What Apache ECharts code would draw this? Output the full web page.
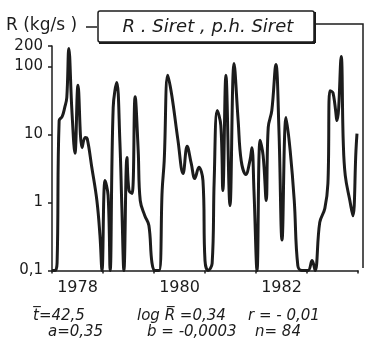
<!DOCTYPE html>
<html>
<head>
<meta charset="utf-8">
<script src="https://cdn.jsdelivr.net/npm/echarts@6/dist/echarts.min.js"></script>
<style>
  html, body { margin: 0; padding: 0; background: #fff; }
  #chart { width: 367px; height: 351px; }
</style>
</head>
<body>
<div id="chart"></div>
<script>
// time in decimal years, discharge R in kg/s
const years = [
  1978.00, 1978.06, 1978.10, 1978.14, 1978.20, 1978.25, 1978.29, 1978.33, 1978.39, 1978.45,
  1978.51, 1978.59, 1978.65, 1978.69, 1978.78, 1978.88, 1978.94, 1978.98, 1979.04, 1979.10,
  1979.14, 1979.20, 1979.27, 1979.33, 1979.37, 1979.41, 1979.47, 1979.51, 1979.57, 1979.63,
  1979.69, 1979.73, 1979.82, 1979.90, 1979.96, 1980.02, 1980.10, 1980.16, 1980.20, 1980.27,
  1980.35, 1980.47, 1980.57, 1980.65, 1980.73, 1980.80, 1980.88, 1980.96, 1981.00, 1981.06,
  1981.14, 1981.18, 1981.24, 1981.31, 1981.35, 1981.41, 1981.49, 1981.57, 1981.65, 1981.71,
  1981.80, 1981.88, 1981.92, 1981.96, 1982.02, 1982.08, 1982.14, 1982.20, 1982.24, 1982.31,
  1982.39, 1982.45, 1982.51, 1982.59, 1982.67, 1982.75, 1982.82, 1982.90, 1983.02, 1983.10,
  1983.16, 1983.25, 1983.35, 1983.41, 1983.45, 1983.51, 1983.59, 1983.67, 1983.71, 1983.75,
  1983.84, 1983.90, 1983.96, 1983.98
];
const discharge = [
  0.1, 0.1, 0.13, 16, 18.4, 25, 35, 184, 22.5, 5.3,
  53, 6.4, 9.0, 8.7, 3.3, 1.07, 0.33, 0.1, 2.1, 1.27,
  0.1, 25, 58, 8.2, 0.84, 0.1, 4.6, 1.5, 1.36, 36,
  5.8, 1.07, 0.64, 0.46, 0.13, 0.1, 0.1, 1.5, 4.1, 74,
  37, 8.2, 2.67, 6.7, 3.75, 2.25, 3.3, 2.1, 0.14, 0.1,
  0.127, 2.1, 22.5, 13.6, 1.5, 74, 0.9, 111, 16, 4.1,
  2.58, 4.1, 6.4, 1.5, 0.1, 8.2, 4.9, 1.07, 12.7, 22.5,
  107, 11.5, 0.28, 17.8, 5.8, 1.07, 0.118, 0.1, 0.1, 0.14,
  0.1, 0.51, 0.82, 1.9, 44, 41, 16, 140, 8.2, 2.5,
  1.07, 0.64, 5.8, 10.3
];
const yearLabels = [1978, 1980, 1982];
const stationTitle = 'R . Siret , p.h. Siret';
const yName = 'R (kg/s )';
const statsLine1 = ['t\u0305=42,5', 'log R\u0305 =0,34', 'r = - 0,01'];
const statsLine2 = ['a=0,35', 'b = -0,0003', 'n= 84'];

const ink = '#1c1c1c';
const chart = echarts.init(document.getElementById('chart'), null, { renderer: 'canvas' });

const fmtY = (v) => {
  const r = v < 1 ? Math.round(v * 10) / 10 : Math.round(v);
  return String(r).replace('.', ',');
};

const statText = (x, y, text) => ({
  type: 'text', left: x, top: y,
  style: { text, fill: ink, font: 'italic 15px "DejaVu Sans"' }
});

chart.setOption({
  animation: false,
  grid: { left: 52, right: 9, top: 46, bottom: 80.5, containLabel: false },
  xAxis: [
    {
      type: 'value', min: 1978, max: 1984, interval: 1,
      axisLine: { lineStyle: { color: ink, width: 1.5 } },
      axisTick: { show: true, length: 3, lineStyle: { color: ink, width: 1.5 } },
      axisLabel: { show: false },
      splitLine: { show: false }
    },
    {
      type: 'value', min: 1978, max: 1984, interval: 0.5, position: 'bottom',
      axisLine: { show: false },
      axisTick: { show: false },
      splitLine: { show: false },
      axisLabel: {
        color: ink, fontFamily: 'DejaVu Sans', fontSize: 16, margin: 9,
        formatter: (v) => {
          const y = Math.floor(v);
          return (v - y === 0.5 && yearLabels.includes(y)) ? String(y) : '';
        }
      }
    }
  ],
  yAxis: {
    type: 'log', logBase: 10, min: 0.1, max: 200,
    axisLine: { show: true, lineStyle: { color: ink, width: 1.5 } },
    axisTick: { show: true, length: 4, lineStyle: { color: ink, width: 1.5 } },
    axisLabel: {
      color: ink, fontFamily: 'DejaVu Sans', fontSize: 15, margin: 9,
      showMaxLabel: true, showMinLabel: true, formatter: fmtY
    },
    splitLine: { show: false }
  },
  series: [{
    type: 'line',
    xAxisIndex: 0,
    data: years.map((t, i) => [t, discharge[i]]),
    smooth: 0.4,
    symbol: 'none',
    clip: true,
    lineStyle: { color: ink, width: 3 }
  }],
  graphic: [
    { type: 'text', left: 6, top: 17, style: { text: yName, fill: ink, font: '17px "DejaVu Sans"' } },
    { type: 'line', shape: { x1: 86, y1: 27, x2: 97, y2: 27 }, style: { stroke: ink, lineWidth: 1.5 } },
    { type: 'rect', shape: { x: 98, y: 11, width: 216, height: 31, r: 2 }, style: { fill: '#fff', stroke: ink, lineWidth: 1.5 } },
    { type: 'line', shape: { x1: 99, y1: 43, x2: 315, y2: 43 }, style: { stroke: ink, lineWidth: 2 } },
    { type: 'line', shape: { x1: 315, y1: 12, x2: 315, y2: 43 }, style: { stroke: ink, lineWidth: 2 } },
    { type: 'polyline', shape: { points: [[315, 24], [363, 24], [363, 268]] }, style: { stroke: ink, lineWidth: 1.5, fill: null } },
    { type: 'text', x: 208, y: 27, style: { text: stationTitle, fill: ink, font: 'italic 18px "DejaVu Sans"', textAlign: 'center', textVerticalAlign: 'middle' } },
    statText(33, 309, statsLine1[0]),
    statText(137, 309, statsLine1[1]),
    statText(248, 309, statsLine1[2]),
    statText(48, 325, statsLine2[0]),
    statText(147, 325, statsLine2[1]),
    statText(255, 325, statsLine2[2])
  ]
});
</script>
</body>
</html>
